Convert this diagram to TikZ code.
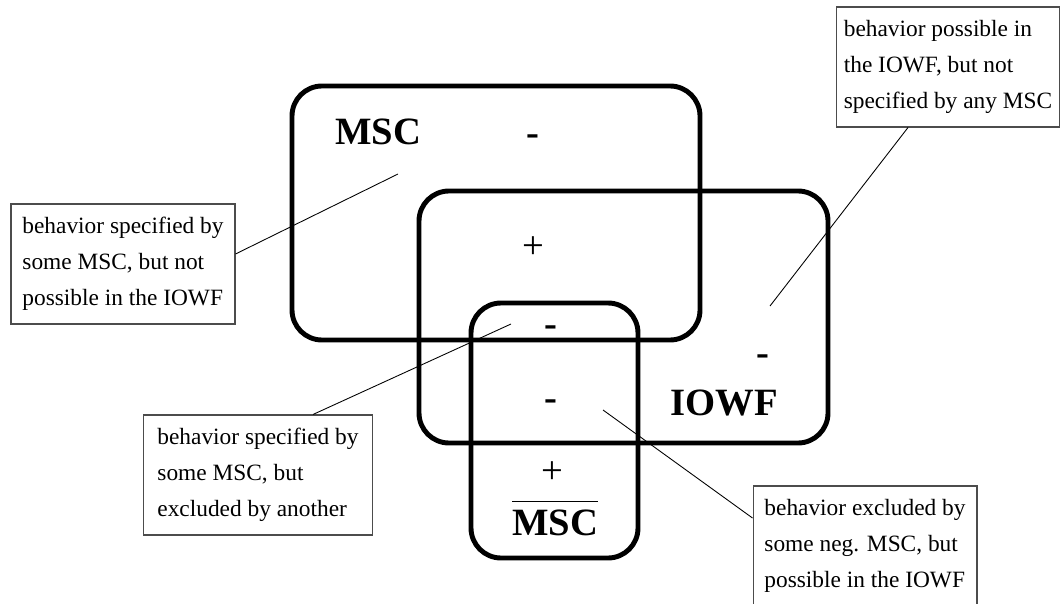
\documentclass[tikz,border=0pt]{standalone}
\usepackage{fontspec}
\setmainfont{Liberation Serif}

\begin{document}
\begin{tikzpicture}[
			x=0.02cm, y=-0.02cm,
			region/.style={draw=black, line width=2.8pt, rounded corners=0.6cm},
			notebox/.style={rectangle, draw=black!70, line width=0.6pt, minimum width=4.48cm, minimum height=2.4cm, align=left, font=\fontsize{13.3}{20.5}\selectfont},
			setname/.style={font=\fontsize{22}{26}\selectfont\bfseries},
			plussign/.style={font=\fontsize{22}{26}\selectfont},
			minussign/.style={font=\fontsize{22}{26}\selectfont\bfseries},
			leader/.style={draw=black, line width=0.5pt}
		]

		\useasboundingbox (0,0) rectangle (1060,604);

		% the three sets
		\draw[region] (292,86) rectangle (700,340);
		\draw[region] (419,191) rectangle (828,443);
		\draw[region] (471,303) rectangle (638,558);

		\node[setname] (msclabel) at (378,132) {MSC};
		\node[setname] (iowflabel) at (724,403) {IOWF};
		\node[setname, anchor=base] (negmsclabel) at (555,535) {$\overline{\mbox{\bfseries MSC}\rule{0pt}{17.5pt}}$};

		\node[minussign] (minusA) at (533,140) {-};
		\node[plussign] (plusA) at (533,248) {+};
		\node[minussign] (minusB) at (551,331) {-};
		\node[minussign] (minusC) at (763,360) {-};
		\node[minussign] (minusD) at (551,405) {-};
		\node[plussign] (plusB) at (552,473) {+};

		% explanations
		\node[notebox] (note1) at (123,264) {behavior specified by\\some MSC, but not\\possible in the IOWF};
		\node[notebox] (note2) at (948,67) {behavior possible in\\the IOWF, but not\\specified by any MSC};
		\node[notebox, minimum width=4.58cm] (note3) at (258,475) {behavior specified by\\some MSC, but\\excluded by another};
		\node[notebox] (note4) at (865,546) {behavior excluded by\\some neg. MSC, but\\possible in the IOWF};

		\coordinate (spot1) at (398,174);
		\coordinate (spot2) at (770,306);
		\coordinate (spot3) at (511,324);
		\coordinate (spot4) at (603,410);

		\draw[leader] ([yshift=0.2cm]note1.east) -- (spot1);
		\draw[leader] ([xshift=-0.8cm]note2.south) -- (spot2);
		\draw[leader] ([xshift=1.1cm]note3.north) -- (spot3);
		\draw[leader] ([yshift=0.56cm]note4.west) -- (spot4);

	\end{tikzpicture}
\end{document}
